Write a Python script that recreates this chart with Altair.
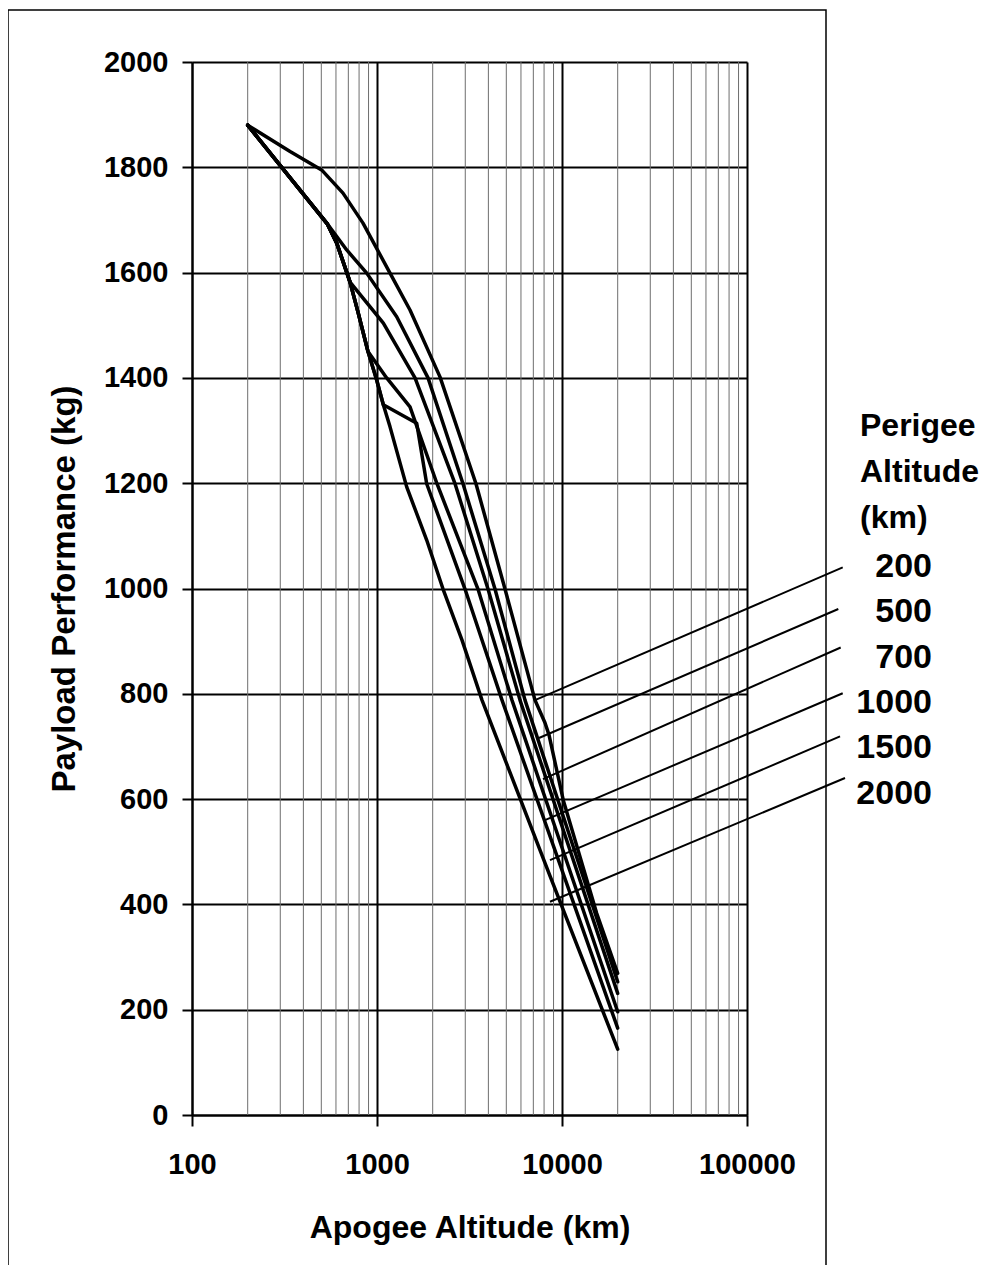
import altair as alt
import pandas as pd

# ---------------- data ----------------
perigee_km = [200, 500, 700, 1000, 1500, 2000]

apogee_200 = [200, 339, 502, 655, 840, 1176, 1508, 2190, 3428, 4919, 7147, 8090, 8506, 10160, 15400, 20000]
payload_200 = [1880, 1830, 1795, 1751, 1694, 1599, 1529, 1402, 1199, 999, 788, 745, 722, 598, 383, 269]

apogee_500 = [200, 540, 686, 880, 1278, 1887, 2917, 4343, 6310, 20000]
payload_500 = [1880, 1692, 1643, 1599, 1516, 1400, 1199, 999, 788, 253]

apogee_700 = [200, 540, 606, 715, 1082, 1605, 2641, 3981, 5929, 20000]
payload_700 = [1880, 1692, 1656, 1582, 1504, 1400, 1199, 999, 788, 231]

apogee_1000 = [200, 540, 606, 715, 792, 894, 1128, 1508, 2110, 3514, 5366, 20000]
payload_1000 = [1880, 1692, 1656, 1582, 1523, 1450, 1400, 1345, 1199, 999, 788, 196]

apogee_1500 = [200, 540, 606, 715, 792, 894, 996, 1082, 1639, 1856, 2990, 4740, 20000]
payload_1500 = [1880, 1692, 1656, 1582, 1523, 1450, 1396, 1349, 1314, 1199, 999, 788, 165]

apogee_2000 = [200, 540, 606, 715, 792, 894, 996, 1082, 1176, 1447, 1856, 2275, 2881, 3695, 5433, 8610, 20000]
payload_2000 = [1880, 1692, 1656, 1582, 1523, 1450, 1396, 1349, 1307, 1193, 1092, 999, 902, 788, 636, 454, 125]

# leader lines: curve end and label end (data units)
leader_curve_apogee = [7147, 7510, 7890, 8090, 8610, 8610]
leader_curve_payload = [788, 716, 638, 560, 484, 405]
leader_label_apogee = [329200, 311600, 321000, 329200, 318300, 338600]
leader_label_payload = [1040, 961, 888, 801, 719, 640]

x_major_ticks = [100, 1000, 10000, 100000]
x_minor_grid = [200, 300, 400, 500, 600, 700, 800, 900,
                2000, 3000, 4000, 5000, 6000, 7000, 8000, 9000,
                20000, 30000, 40000, 50000, 60000, 70000, 80000, 90000]
y_ticks = [0, 200, 400, 600, 800, 1000, 1200, 1400, 1600, 1800, 2000]

legend_header = ["Perigee", "Altitude", "(km)"]

# ---------------- build tables ----------------
series = {
    200: (apogee_200, payload_200),
    500: (apogee_500, payload_500),
    700: (apogee_700, payload_700),
    1000: (apogee_1000, payload_1000),
    1500: (apogee_1500, payload_1500),
    2000: (apogee_2000, payload_2000),
}
rows = []
for p in perigee_km:
    a_list, w_list = series[p]
    for i, (a, w) in enumerate(zip(a_list, w_list)):
        rows.append({"perigee": p, "apogee": a, "payload": w, "seq": i})
curves = pd.DataFrame(rows)

leaders = pd.DataFrame({
    "perigee": perigee_km,
    "apogee": leader_curve_apogee,
    "payload": leader_curve_payload,
    "apogee2": leader_label_apogee,
    "payload2": leader_label_payload,
})
minor = pd.DataFrame({"apogee": x_minor_grid})

FONT = "Liberation Sans"
W, H = 555, 1053

xs = alt.Scale(type="log", domain=[100, 100000], nice=False)
ys = alt.Scale(domain=[0, 2000], nice=False)

x_axis = alt.Axis(
    values=x_major_ticks, format="d", title="Apogee Altitude (km)",
    grid=True, gridColor="black", gridWidth=2, gridOpacity=1,
    domainColor="black", domainWidth=2,
    tickColor="black", tickWidth=2, tickSize=11,
    labelFont=FONT, labelFontSize=29, labelFontWeight="bold", labelColor="black",
    labelPadding=24, labelFlush=False, labelOverlap=False,
    titleFont=FONT, titleFontSize=32, titleFontWeight="bold", titleColor="black",
    titleY=122, titleBaseline="alphabetic",
)
y_axis = alt.Axis(
    values=y_ticks, format="d", title="Payload Performance (kg)",
    grid=True, gridColor="black", gridWidth=2, gridOpacity=1,
    domainColor="black", domainWidth=2,
    tickColor="black", tickWidth=2, tickSize=10,
    labelFont=FONT, labelFontSize=29, labelFontWeight="bold", labelColor="black",
    labelPadding=14, labelFlush=False, labelOverlap=False,
    titleFont=FONT, titleFontSize=33, titleFontWeight="bold", titleColor="black",
    titleX=-118, titleBaseline="alphabetic",
)


def X(field="apogee"):
    return alt.X(f"{field}:Q", scale=xs, axis=x_axis)


def Y(field="payload"):
    return alt.Y(f"{field}:Q", scale=ys, axis=y_axis)


frame = alt.Chart(pd.DataFrame({"k": [0]})).mark_rect(
    fillOpacity=0, stroke="black", strokeWidth=1.5
).encode(
    x=alt.value(-184), x2=alt.value(634), y=alt.value(-52), y2=alt.value(1260)
)

minor_grid = alt.Chart(minor).mark_rule(color="#6e6e6e", strokeWidth=1).encode(
    x=X()
)

lines = alt.Chart(curves).mark_line(
    color="black", strokeWidth=3.5, strokeJoin="round", strokeCap="round"
).encode(
    x=X(), y=Y(), detail="perigee:N", order="seq:Q"
)

leader_lines = alt.Chart(leaders).mark_rule(color="black", strokeWidth=2).encode(
    x=X(), y=Y(), x2="apogee2:Q", y2="payload2:Q"
)

header = alt.Chart(pd.DataFrame({"k": [0]})).mark_text(
    text=legend_header, align="left", baseline="alphabetic",
    font=FONT, fontSize=32, fontWeight="bold", color="black", lineHeight=46
).encode(x=alt.value(668), y=alt.value(374))

numbers = alt.Chart(pd.DataFrame({"k": [0]})).mark_text(
    text=[str(p) for p in perigee_km], align="right", baseline="alphabetic",
    font=FONT, fontSize=34, fontWeight="bold", color="black", lineHeight=45.3
).encode(x=alt.value(740), y=alt.value(515))

chart = alt.layer(frame, minor_grid, lines, leader_lines, header, numbers).properties(
    width=W, height=H,
    autosize=alt.AutoSizeParams(type="none"),
    padding={"left": 184, "top": 54, "right": 233, "bottom": 150},
    background="white",
).configure_view(strokeWidth=0)

chart.save("out.html", embed_options={"renderer": "svg", "actions": False})
